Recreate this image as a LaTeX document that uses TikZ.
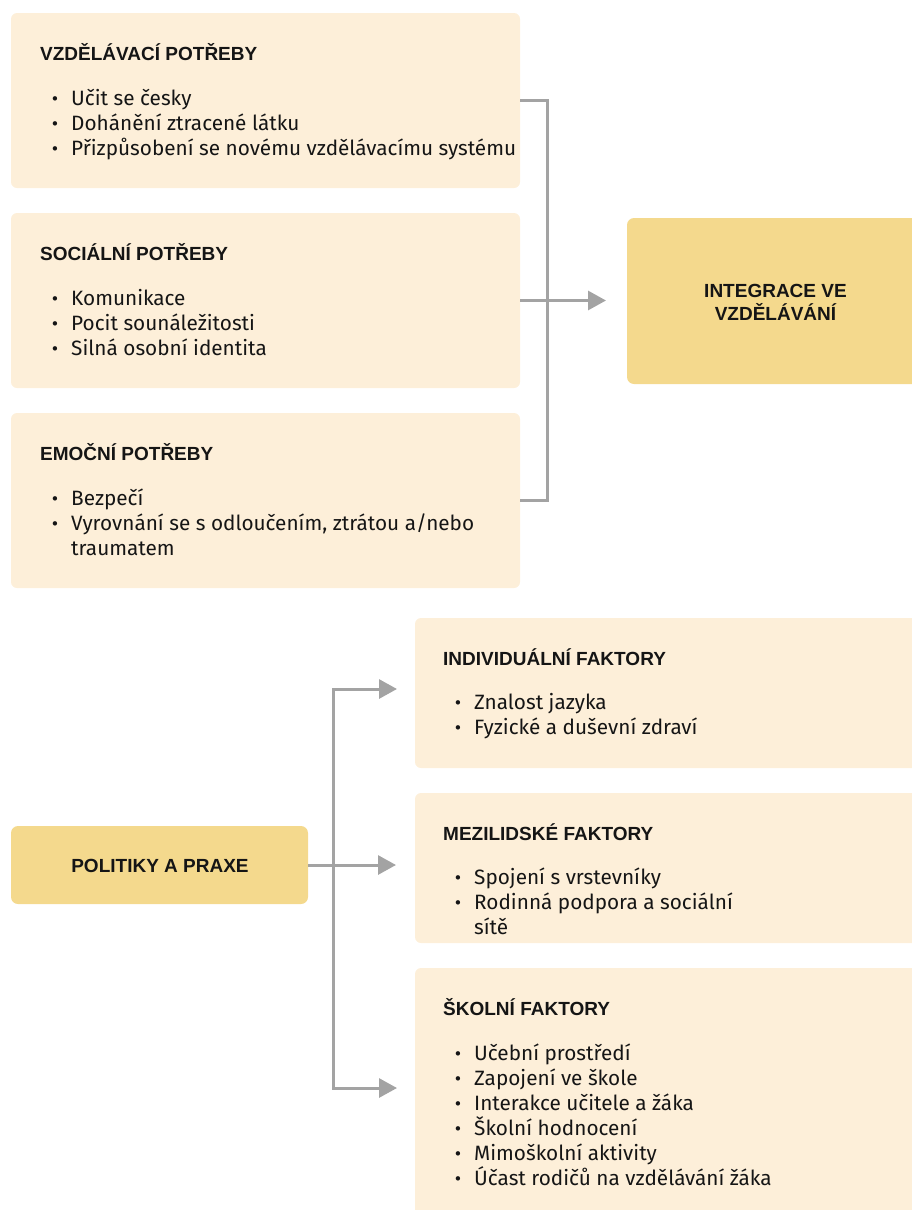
\documentclass[tikz,border=0pt]{standalone}
\usepackage{fontspec}
\setmainfont{Fira Sans}
\newfontfamily\headfont{Liberation Sans}
\usetikzlibrary{arrows.meta}
\definecolor{cream}{HTML}{FDEFD9}
\definecolor{gold}{HTML}{F4D98D}
\definecolor{conn}{HTML}{A3A3A3}
\definecolor{ink}{HTML}{151515}
\tikzset{
  box/.style={fill=cream, draw=none, rounded corners=6pt},
  keybox/.style={fill=gold, draw=none, rounded corners=7pt},
  head/.style={inner sep=0pt, anchor=base west, text=ink, font=\headfont\bfseries\fontsize{19}{22}\selectfont},
  keytext/.style={inner sep=0pt, align=center, text=ink, font=\headfont\bfseries\fontsize{19}{23}\selectfont},
  txt/.style={inner sep=0pt, anchor=base west, text=ink, font=\fontsize{20.75}{25}\selectfont},
  bul/.style={inner sep=0pt, text=ink, font=\fontsize{19.5}{25}\selectfont},
  conline/.style={draw=conn, line width=3pt},
  conarrow/.style={draw=conn, line width=3pt, -{Triangle[length=18pt,width=19pt]}},
}
\newcommand\itm[4]{%
  \node[bul, anchor=base] (#1b) at ({#2-16},#3) {\textbullet};
  \node[txt] (#1) at (#2,#3) {#4};}
\newcommand\cont[4]{\node[txt] (#1) at (#2,#3) {#4};}
\begin{document}
\begin{tikzpicture}[x=1pt,y=-1pt]
\useasboundingbox (0,0) rectangle (912,1210);
\clip (0,0) rectangle (912,1210);
% top group boxes
\node[box, minimum width=509pt, minimum height=175pt] (b1) at (265.5,100.5) {};
\node[box, minimum width=509pt, minimum height=175pt] (b2) at (265.5,300.5) {};
\node[box, minimum width=509pt, minimum height=175pt] (b3) at (265.5,500.5) {};
\node[keybox, minimum width=297pt, minimum height=166pt] (key1) at (775.5,301) {};
% bottom group boxes
\node[keybox, minimum width=297pt, minimum height=78pt] (key2) at (159.5,865) {};
\node[box, minimum width=509pt, minimum height=150pt] (b4) at (669.5,693) {};
\node[box, minimum width=509pt, minimum height=150pt] (b5) at (669.5,868) {};
\node[box, minimum width=509pt, minimum height=262pt] (b6) at (669.5,1099) {};

% texts box 1
\node[head] (h1) at (40,60) {VZDĚLÁVACÍ POTŘEBY};
\itm{t11}{71}{105}{Učit se česky}
\itm{t12}{71}{130}{Dohánění ztracené látku}
\itm{t13}{71}{155}{Přizpůsobení se novému vzdělávacímu systému}
% box 2
\node[head] (h2) at (40,260) {SOCIÁLNÍ POTŘEBY};
\itm{t21}{71}{305}{Komunikace}
\itm{t22}{71}{330}{Pocit sounáležitosti}
\itm{t23}{71}{355}{Silná osobní identita}
% box 3
\node[head] (h3) at (40,460) {EMOČNÍ POTŘEBY};
\itm{t31}{71}{505}{Bezpečí}
\itm{t32}{71}{530}{Vyrovnání se s odloučením, ztrátou a/nebo}
\cont{t33}{71}{555}{traumatem}
% key texts
\node[keytext] (k1) at ([yshift=-1pt]key1.center) {INTEGRACE VE\\VZDĚLÁVÁNÍ};
\node[keytext] (k2) at (160,866) {POLITIKY A PRAXE};
% box 4
\node[head] (h4) at (443,665) {INDIVIDUÁLNÍ FAKTORY};
\itm{t41}{474}{709}{Znalost jazyka}
\itm{t42}{474}{734}{Fyzické a duševní zdraví}
% box 5
\node[head] (h5) at (443,840) {MEZILIDSKÉ FAKTORY};
\itm{t51}{474}{884}{Spojení s vrstevníky}
\itm{t52}{474}{909}{Rodinná podpora a sociální}
\cont{t53}{474}{934}{sítě}
% box 6
\node[head] (h6) at (443,1015) {ŠKOLNÍ FAKTORY};
\itm{t61}{474}{1060}{Učební prostředí}
\itm{t62}{474}{1085}{Zapojení ve škole}
\itm{t63}{474}{1110}{Interakce učitele a žáka}
\itm{t64}{474}{1135}{Školní hodnocení}
\itm{t65}{474}{1160}{Mimoškolní aktivity}
\itm{t66}{474}{1185}{Účast rodičů na vzdělávání žáka}

% top connectors
\coordinate (j1) at (547,100.5);
\coordinate (j3) at (547,500.5);
\coordinate (tipA) at (606,300.5);
\draw[conline] (b1.east) -- (j1) -- (j3) -- (b3.east);
\draw[conarrow] (b2.east) -- (tipA);
% bottom connectors
\coordinate (sp) at (333,865);
\coordinate (tip4) at (397,689);
\coordinate (tip5) at (396,865);
\coordinate (tip6) at (397,1088);
\draw[conline] (key2.east) -- (sp);
\draw[conarrow] (sp) -- (tip5);
\draw[conarrow] (sp) |- (tip4);
\draw[conarrow] (sp) |- (tip6);
\end{tikzpicture}
\end{document}
